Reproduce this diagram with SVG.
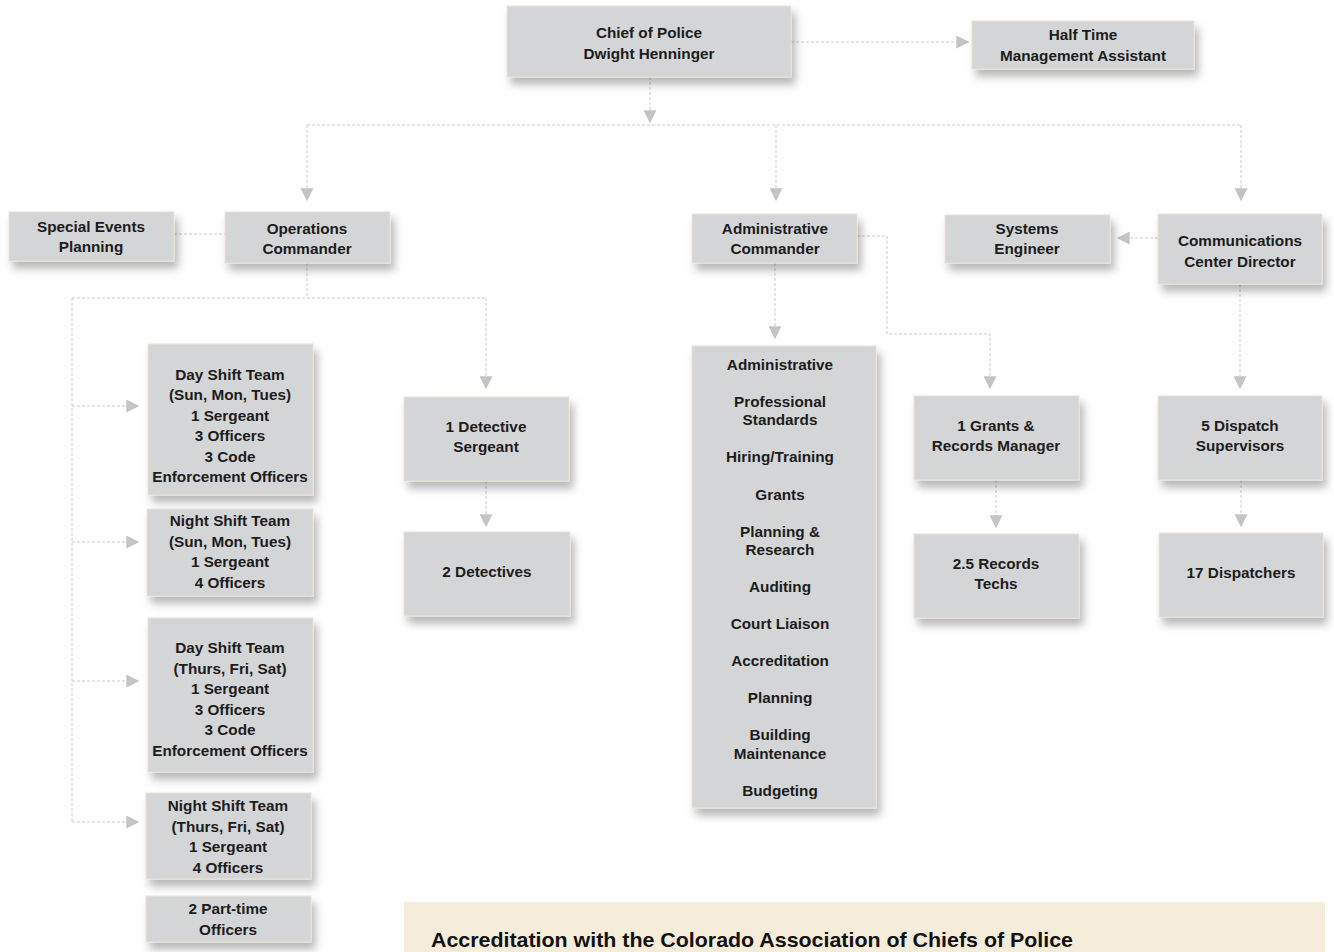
<svg xmlns="http://www.w3.org/2000/svg" width="1334" height="952" viewBox="0 0 1334 952">
<style>
.box{fill:#d4d5d7;stroke:#ece3d2;stroke-width:1;filter:url(#sh)}
.t{font-family:"Liberation Sans",Arial,sans-serif;font-weight:bold;font-size:15.3px;fill:#1c1c1c;text-anchor:middle}
.c{fill:none;stroke:#c9c9c9;stroke-width:1;stroke-dasharray:3 2}
.a{marker-end:url(#ar)}
</style>
<defs>
<filter id="sh" x="-20%" y="-20%" width="150%" height="160%">
<feDropShadow dx="4" dy="7" stdDeviation="4.5" flood-color="#000" flood-opacity="0.28"/>
</filter>
<marker id="ar" viewBox="0 0 10 10" refX="9" refY="5" markerWidth="13" markerHeight="13" markerUnits="userSpaceOnUse" orient="auto">
<path d="M0,0 L10,5 L0,10 z" fill="#c4c4c4"/>
</marker>
</defs>
<rect width="1334" height="952" fill="#fff"/>

<g id="connectors">
<path class="c a" d="M791,42 H968"/>
<path class="c a" d="M650,77 V122"/>
<path class="c" d="M307,125 H1241"/>
<path class="c a" d="M307,125 V200"/>
<path class="c a" d="M776,125 V200"/>
<path class="c a" d="M1241,125 V200"/>
<path class="c" d="M174,234 H225"/>
<path class="c a" d="M1158,238 H1118"/>
<path class="c" d="M307,263 V298"/>
<path class="c" d="M72,298 H486"/>
<path class="c a" d="M486,298 V388"/>
<path class="c" d="M72,298 V822"/>
<path class="c a" d="M72,406 H138"/>
<path class="c a" d="M72,542 H138"/>
<path class="c a" d="M72,681 H138"/>
<path class="c a" d="M72,822 H138"/>
<path class="c a" d="M486,481 V526"/>
<path class="c a" d="M775,263 V338"/>
<path class="c a" d="M857,236 H887 V334 H990 V388"/>
<path class="c a" d="M996,480 V527"/>
<path class="c a" d="M1240,284 V388"/>
<path class="c a" d="M1241,480 V526"/>
</g>

<g id="chief"><rect class="box" x="507" y="6" width="284" height="71"/>
<text class="t" x="649" y="38">Chief of Police</text><text class="t" x="649" y="59">Dwight Henninger</text></g>

<g id="halftime"><rect class="box" x="972" y="21" width="222" height="48"/>
<text class="t" x="1083" y="40">Half Time</text><text class="t" x="1083" y="61">Management Assistant</text></g>

<g id="special-events"><rect class="box" x="9" y="212" width="165" height="49"/>
<text class="t" x="91" y="232">Special Events</text><text class="t" x="91" y="252">Planning</text></g>

<g id="operations"><rect class="box" x="225" y="212" width="165" height="51"/>
<text class="t" x="307" y="234">Operations</text><text class="t" x="307" y="254">Commander</text></g>

<g id="admin-commander"><rect class="box" x="692" y="214" width="165" height="49"/>
<text class="t" x="775" y="234">Administrative</text><text class="t" x="775" y="254">Commander</text></g>

<g id="systems"><rect class="box" x="945" y="215" width="165" height="48"/>
<text class="t" x="1027" y="234">Systems</text><text class="t" x="1027" y="254">Engineer</text></g>

<g id="comm-director"><rect class="box" x="1158" y="214" width="164" height="70"/>
<text class="t" x="1240" y="246">Communications</text><text class="t" x="1240" y="267">Center Director</text></g>

<g id="day-sun"><rect class="box" x="148" y="344" width="165" height="151"/>
<text class="t" x="230" y="380">Day Shift Team</text><text class="t" x="230" y="400">(Sun, Mon, Tues)</text>
<text class="t" x="230" y="421">1 Sergeant</text><text class="t" x="230" y="441">3 Officers</text>
<text class="t" x="230" y="462">3 Code</text><text class="t" x="230" y="482">Enforcement Officers</text></g>

<g id="night-sun"><rect class="box" x="147" y="509" width="166" height="87"/>
<text class="t" x="230" y="526">Night Shift Team</text><text class="t" x="230" y="547">(Sun, Mon, Tues)</text>
<text class="t" x="230" y="567">1 Sergeant</text><text class="t" x="230" y="588">4 Officers</text></g>

<g id="day-thu"><rect class="box" x="148" y="618" width="165" height="154"/>
<text class="t" x="230" y="653">Day Shift Team</text><text class="t" x="230" y="674">(Thurs, Fri, Sat)</text>
<text class="t" x="230" y="694">1 Sergeant</text><text class="t" x="230" y="715">3 Officers</text>
<text class="t" x="230" y="735">3 Code</text><text class="t" x="230" y="756">Enforcement Officers</text></g>

<g id="night-thu"><rect class="box" x="146" y="793" width="165" height="86"/>
<text class="t" x="228" y="811">Night Shift Team</text><text class="t" x="228" y="832">(Thurs, Fri, Sat)</text>
<text class="t" x="228" y="852">1 Sergeant</text><text class="t" x="228" y="873">4 Officers</text></g>

<g id="part-time"><rect class="box" x="146" y="896" width="165" height="46"/>
<text class="t" x="228" y="914">2 Part-time</text><text class="t" x="228" y="935">Officers</text></g>

<g id="det-sergeant"><rect class="box" x="404" y="397" width="165" height="84"/>
<text class="t" x="486" y="432">1 Detective</text><text class="t" x="486" y="452">Sergeant</text></g>

<g id="detectives"><rect class="box" x="404" y="532" width="166" height="84"/>
<text class="t" x="487" y="577">2 Detectives</text></g>

<g id="admin-list"><rect class="box" x="692" y="346" width="184" height="462"/>
<text class="t" x="780" y="370">Administrative</text>
<text class="t" x="780" y="407">Professional</text><text class="t" x="780" y="425">Standards</text>
<text class="t" x="780" y="462">Hiring/Training</text>
<text class="t" x="780" y="500">Grants</text>
<text class="t" x="780" y="537">Planning &amp;</text><text class="t" x="780" y="555">Research</text>
<text class="t" x="780" y="592">Auditing</text>
<text class="t" x="780" y="629">Court Liaison</text>
<text class="t" x="780" y="666">Accreditation</text>
<text class="t" x="780" y="703">Planning</text>
<text class="t" x="780" y="740">Building</text><text class="t" x="780" y="759">Maintenance</text>
<text class="t" x="780" y="796">Budgeting</text></g>

<g id="grants-manager"><rect class="box" x="914" y="396" width="165" height="84"/>
<text class="t" x="996" y="431">1 Grants &amp;</text><text class="t" x="996" y="451">Records Manager</text></g>

<g id="records-techs"><rect class="box" x="914" y="534" width="165" height="84"/>
<text class="t" x="996" y="569">2.5 Records</text><text class="t" x="996" y="589">Techs</text></g>

<g id="dispatch-supervisors"><rect class="box" x="1158" y="396" width="164" height="84"/>
<text class="t" x="1240" y="431">5 Dispatch</text><text class="t" x="1240" y="451">Supervisors</text></g>

<g id="dispatchers"><rect class="box" x="1159" y="533" width="164" height="84"/>
<text class="t" x="1241" y="578">17 Dispatchers</text></g>

<g id="banner"><rect x="404" y="902" width="921" height="50" fill="#f5ecd9"/>
<text x="431" y="947" font-family="'Liberation Sans',Arial,sans-serif" font-weight="bold" font-size="21" fill="#111" textLength="642" lengthAdjust="spacingAndGlyphs">Accreditation with the Colorado Association of Chiefs of Police</text></g>
</svg>
